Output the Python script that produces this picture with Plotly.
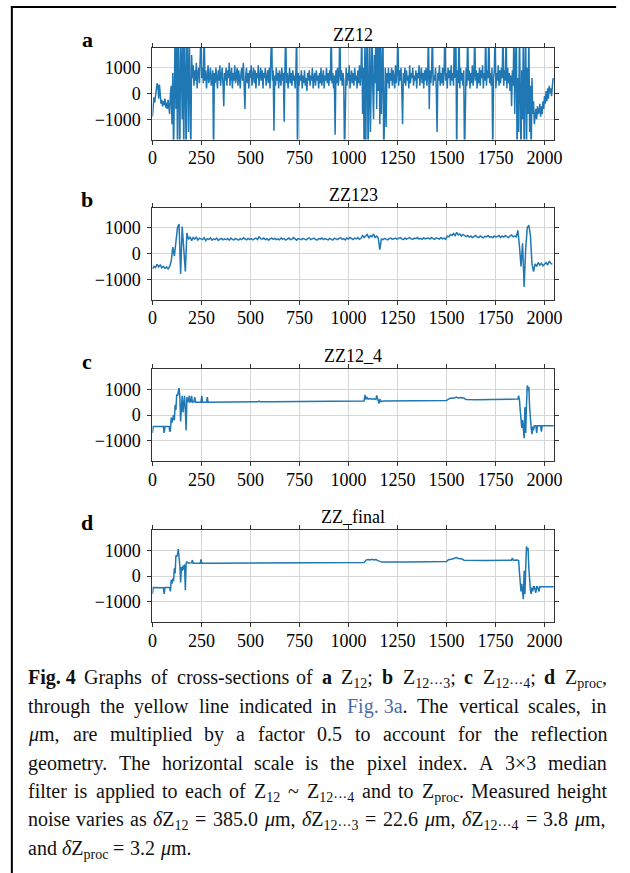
import re
import plotly.graph_objects as go

# ---------------------------------------------------------------------------
# Cross-section profiles (heights in micrometres, pixel index on x)
# ---------------------------------------------------------------------------
STEP4_X = list(range(0, 2048, 4))
STEP8_X = list(range(0, 2048, 8))

# a: raw Z12 profile (every 4th pixel)
zz12 = [
    -900, -300, -150, -350, -100, 200, 400, 300, -200, 350, -100, -400, -250, -500, -300, -450,
    -200, -550, -350, -600, -250, -500, -800, 0, 300, -1200, 800, -2500, 1500, 2500, -600, 2500,
    -2500, 2500, 400, -2500, 2500, 1200, -1000, 2500, -2500, 2500, 600, -2500, 2500, 1000, -1500, 2500,
    200, -2500, 1500, 600, 1100, 300, 900, 500, 1200, 200, 800, 1000, 400, 900, 2500, 600,
    1000, 400, 2500, 500, 900, 200, 800, 1100, 400, 700, 1000, 300, 600, 900, -2500, 800,
    400, 1000, 600, 200, 900, 500, 1100, 300, 700, 1000, 400, -500, 800, 500, 1000, 300,
    900, 600, 1200, 300, 700, 1000, 200, 800, 500, 1100, 400, 700, 1000, 300, 900, 600,
    200, 800, 1000, 500, 1200, 300, -600, 700, 1000, 400, 800, 200, 900, 600, 1100, 300,
    700, 1000, 400, 900, 200, 800, 600, 1100, 300, 700, 1000, 500, 900, 200, 800, 600,
    1000, 300, 700, 900, 400, 1000, 200, 800, 2500, 500, 900, -1450, 700, 300, 1000, 500,
    800, 200, 900, 600, 300, 1000, 500, 800, -1100, 900, 2500, 400, 800, 200, 700, 1000,
    400, 800, 300, 900, 500, 700, 200, 900, 2500, -2500, 800, 300, 700, 500, 900, 200,
    700, 400, 900, 300, 600, 100, 800, 500, 900, 300, 700, 500, 1000, 200, 600, 800,
    300, 900, 500, 700, 200, 800, 400, 1000, 300, 600, 900, 200, 700, 500, 1000, 400,
    800, 300, 900, 500, 2500, 400, 800, 200, 700, -1600, 900, 400, 1000, 300, 700, 2500,
    500, 900, 300, 800, 500, -2500, 700, 1000, 300, 800, 500, 1100, 200, 700, 900, 400,
    800, 300, 1000, 500, 700, 200, 900, 400, 1100, 300, 800, 2500, -800, 1000, -2500, 2500,
    -2500, 1200, 2500, -2500, 600, 2500, -1500, 1000, 2500, 200, -1000, 1500, 400, 2500, -600, 2500,
    100, 2500, -1200, 2500, -800, 1200, 2500, -2500, 300, 1000, -1300, 800, 400, 1000, 200, 800,
    500, 1000, 300, 900, 600, 200, 1100, 400, 800, 2500, 300, 900, 500, 1000, 200, -1200,
    800, 400, 1000, 300, 900, 500, 700, 200, 1100, 400, 800, 600, 1000, 300, 700, 500,
    900, 200, 800, 600, 1100, 300, 700, 1000, 400, 800, 200, 900, 500, 1000, 300, 700,
    2500, -600, 900, 400, 800, 2500, 300, 700, 500, 1000, 200, -1500, 800, 500, 1100, 300,
    800, 400, 1000, 300, 900, 2500, 500, 800, 200, 1000, 600, 900, 300, 1100, 500, 800,
    300, 2500, 600, 2500, -2500, 900, 400, 2500, 200, 1000, 500, 800, 300, 900, -2500, 700,
    1000, 300, 2500, 500, 900, 200, 800, 400, 1100, 300, 700, 2500, 500, 900, 200, 800,
    400, 1000, 300, 900, 600, 1100, 200, 800, 500, 2500, 300, 900, 600, 2500, 400, 800,
    300, 1000, -2500, 600, 900, 2500, 200, 800, 500, 1100, 300, 900, 400, 1000, 600, 2500,
    300, 900, 500, 2500, 200, 1000, 400, 800, 100, 700, -500, 900, 300, 2500, -800, 1000,
    2500, -2500, 600, -1500, 2500, 200, -2500, 900, -1000, 2500, -2500, 400, 2500, -2500, 1000, -800,
    2500, -1500, 300, -2500, 600, -800, -300, -1200, -900, -600, -1000, -500, -800, -700, -400, -900,
    -500, -800, -300, -600, -100, -400, 100, -300, 200, -200, 300, 0, 200, -100, 300, 600,
]

# b: Z12...3 profile (every 8th pixel)
zz123 = [
    -600, -500, -550, -420, -520, -450, -560, -500, -580, -520, -600, -500, -300, 250, -100, 600,
    1000, 1150, -800, 1050, 300, -700, 800, 550, 650, 500, 620, 560, 640, 520, 600, 580,
    540, 620, 500, 580, 550, 610, 520, 570, 540, 600, 510, 560, 590, 530, 570, 540,
    580, 520, 600, 550, 530, 590, 560, 520, 580, 540, 610, 560, 530, 590, 550, 580,
    530, 570, 600, 540, 650, 580, 560, 600, 540, 580, 520, 570, 600, 550, 590, 540,
    570, 530, 600, 560, 580, 520, 570, 600, 540, 560, 620, 550, 520, 580, 560, 540,
    590, 550, 530, 580, 610, 540, 570, 600, 550, 520, 580, 560, 600, 540, 580, 560,
    530, 590, 560, 520, 600, 570, 540, 590, 620, 550, 580, 530, 600, 560, 620, 580,
    540, 600, 570, 620, 550, 590, 700, 620, 680, 740, 600, 700, 650, 760, 620, 680,
    600, 150, 560, 540, 590, 560, 530, 580, 600, 550, 570, 600, 560, 580, 620, 570,
    540, 600, 560, 590, 620, 570, 550, 600, 580, 620, 560, 590, 550, 610, 570, 590,
    600, 560, 620, 580, 550, 610, 590, 560, 620, 570, 600, 550, 680, 650, 740, 700,
    780, 700, 820, 720, 760, 680, 740, 690, 660, 700, 640, 680, 620, 660, 700, 650,
    620, 680, 640, 610, 670, 650, 700, 630, 660, 610, 680, 640, 660, 700, 620, 680,
    640, 700, 660, 620, 690, 720, 650, 680, 650, 900, 300, -500, 400, -1300, 200, 1000,
    1100, 700, -400, -700, -400, -500, -350, -450, -380, -480, -420, -350, -450, -300, -380, -420,
]

# c: Z12...4 profile (breakpoints)
zz12_4_x = [
    0, 4, 20, 40, 56, 60, 64, 86, 88, 92,
    96, 100, 104, 108, 112, 116, 120, 124, 128, 132,
    136, 140, 144, 148, 152, 156, 160, 164, 168, 172,
    176, 180, 184, 188, 192, 196, 200, 204, 212, 216,
    220, 248, 252, 256, 276, 280, 284,
    300, 400, 500, 540, 545, 550, 600, 700, 800, 900,
    1000, 1080, 1084, 1088, 1092, 1100, 1110, 1120, 1130, 1140,
    1144, 1150, 1156, 1160, 1166, 1180, 1250, 1350, 1450, 1500,
    1510, 1520, 1540, 1550, 1560, 1575, 1590, 1600, 1650, 1750,
    1850, 1864, 1868, 1872, 1876, 1880, 1884, 1888, 1892, 1896,
    1900, 1904, 1908, 1912, 1916, 1920, 1924, 1928, 1932, 1936,
    1940, 1944, 1948, 1956, 1960, 1964, 1980, 1984, 1988, 2047,
]
zz12_4_y = [
    -700, -450, -450, -460, -450, -700, -450, -450, -650, -600,
    -100, -300, -200, 0, -200, 400, 200, 800, 750, 850,
    1050, 700, -250, 300, 750, 100, 400, 750, 200, -600,
    700, 500, 550, 750, 500, 520, 750, 500, 520, 700,
    500, 500, 750, 500, 500, 700, 500,
    500, 505, 510, 520, 540, 515, 515, 520, 525, 530,
    540, 545, 780, 600, 700, 620, 640, 610, 630, 600,
    760, 600, 450, 620, 520, 540, 540, 545, 550, 560,
    620, 650, 660, 700, 660, 680, 650, 600, 590, 600,
    610, 620, 750, 600, 200, -100, -500, -200, -850, -900,
    300, -700, 400, 1150, 950, 1100, 300, -300, -500, -750,
    -450, -600, -420, -420, -700, -420, -420, -650, -420, -420,
]

# d: processed profile (breakpoints)
zz_final_x = [
    0, 4, 56, 60, 64, 88, 92, 96, 100, 104,
    108, 112, 116, 120, 124, 128, 132, 136, 140, 144,
    148, 152, 156, 160, 164, 168, 172, 176, 184, 200,
    204, 208, 244, 248, 252,
    300, 500, 700, 900, 1080, 1090, 1100, 1110, 1120, 1130,
    1140, 1150, 1160, 1170, 1300, 1450, 1500, 1510, 1530, 1550,
    1560, 1580, 1590, 1700, 1830, 1836, 1840, 1860, 1864, 1868,
    1872, 1876, 1880, 1884, 1888, 1892, 1896, 1900, 1904, 1908,
    1912, 1916, 1920, 1924, 1928, 1932, 1936, 1940, 1944, 1948,
    1956, 1960, 1964, 1972, 1976, 1980, 2047,
]
zz_final_y = [
    -700, -450, -460, -700, -450, -450, -600, -150, -300, -100,
    -200, 300, 100, 800, 750, 850, 1050, 800, 400, -250,
    350, 200, 400, 250, 450, -550, 500, 550, 500, 520,
    620, 500, 500, 650, 500,
    500, 505, 510, 520, 530, 620, 640, 620, 650, 620,
    640, 600, 560, 540, 540, 545, 560, 630, 660, 720,
    680, 660, 610, 600, 610, 700, 610, 620, 620, 600,
    150, -200, -600, -300, -850, -900, 200, -700, 300, 1150,
    1000, 1100, 300, -300, -550, -700, -450, -600, -420, -420,
    -650, -420, -420, -600, -420, -420, -420,
]

panel_titles = ["ZZ12", "ZZ123", "ZZ12_4", "ZZ_final"]
panel_letters = ["a", "b", "c", "d"]
x_tick_vals = [0, 250, 500, 750, 1000, 1250, 1500, 1750, 2000]
y_tick_vals = [-1000, 0, 1000]
y_tick_text = ["\u22121000", "0", "1000"]

series = [
    (STEP4_X, zz12),
    (STEP8_X, zz123),
    (zz12_4_x, zz12_4_y),
    (zz_final_x, zz_final_y),
]

# ---------------------------------------------------------------------------
# Page geometry (pixels)
# ---------------------------------------------------------------------------
W, H = 630, 873
PLOT_L, PLOT_R = 150.5, 560.5
PLOT_H = 92.0
PANEL_TOPS = [47.5, 207.5, 369.0, 530.0]

SERIF = "Liberation Serif, Times New Roman, serif"
LINE_BLUE = "#1f77b4"
TICK_FS = 18
TITLE_FS = 18
LETTER_FS = 22


def px_x(p):
    return p / W


def px_y(p):
    return 1.0 - p / H


fig = go.Figure()
layout = dict(
    width=W, height=H, autosize=False,
    margin=dict(l=0, r=0, t=0, b=0, pad=0),
    paper_bgcolor="white", plot_bgcolor="white",
    showlegend=False,
    font=dict(family=SERIF, size=TICK_FS, color="black"),
)

axis_common = dict(
    showline=True, linecolor="#333333", linewidth=1, mirror="allticks",
    ticks="outside", ticklen=4, tickwidth=1, tickcolor="#333333",
    showgrid=True, gridcolor="#d6d6d6", gridwidth=1, zeroline=False,
    tickfont=dict(family=SERIF, size=TICK_FS, color="black"),
    fixedrange=True,
)

annotations = []


def add_text(html, x, baseline, fs, xanchor="left", color="black"):
    # place text by its baseline, using the serif font's ascent
    annotations.append(dict(
        text=html, xref="paper", yref="paper",
        x=px_x(x), y=px_y(baseline - 0.891 * fs - 1),
        xanchor=xanchor, yanchor="top", showarrow=False,
        font=dict(family=SERIF, size=fs, color=color),
    ))


for i, ((xs, ys), title, letter, top) in enumerate(
        zip(series, panel_titles, panel_letters, PANEL_TOPS)):
    suffix = "" if i == 0 else str(i + 1)
    fig.add_trace(go.Scatter(
        x=xs, y=ys, mode="lines",
        line=dict(color=LINE_BLUE, width=1.5),
        xaxis="x" + suffix, yaxis="y" + suffix, hoverinfo="skip",
    ))
    layout["xaxis" + suffix] = dict(
        axis_common, domain=[px_x(PLOT_L), px_x(PLOT_R)], anchor="y" + suffix,
        range=[0, 2048], tickvals=x_tick_vals,
        ticktext=[str(v) for v in x_tick_vals], ticklabelstandoff=-2,
    )
    layout["yaxis" + suffix] = dict(
        axis_common, domain=[px_y(top + PLOT_H), px_y(top)], anchor="x" + suffix,
        range=[-1790, 1790], tickvals=y_tick_vals, ticktext=y_tick_text,
        ticklabelstandoff=3,
    )
    add_text(title, (PLOT_L + PLOT_R) / 2, top - 7.5, TITLE_FS, xanchor="center")
    add_text("<b>%s</b>" % letter, 84, top - 1.5, LETTER_FS, xanchor="center")

# ---------------------------------------------------------------------------
# Caption, justified word by word with Times-compatible advance widths
# ---------------------------------------------------------------------------
REG = {" ": 250, "\u00a0": 250, ",": 250, ".": 250, ";": 278, "-": 333,
       "\u00d7": 564, "~": 541, "=": 564, "\u00b7": 340, "\u03b4": 520, "\u03bc": 576}
REG.update({c: 500 for c in "0123456789"})
REG.update(dict(zip("abcdefghijklmnopqrstuvwxyz",
                    [444, 500, 444, 500, 444, 333, 500, 500, 278, 278, 500, 278, 778,
                     500, 500, 500, 500, 333, 389, 278, 500, 500, 722, 500, 500, 444])))
REG.update({"A": 722, "F": 556, "G": 722, "M": 889, "T": 611, "Z": 611})
BOLD = {"F": 611, "i": 278, "g": 500, ".": 250, " ": 250, "4": 500,
        "a": 500, "b": 556, "c": 444, "d": 556}


def token_width(html, fs):
    bold = sub = False
    w = 0.0
    for part in re.split(r"(<[^>]+>)", html):
        if part.startswith("<"):
            name = re.match(r"</?\s*(\w+)", part).group(1).lower()
            closing = part.startswith("</")
            if name == "b":
                bold = not closing
            elif name == "sub":
                sub = not closing
            continue
        for ch in part:
            base = BOLD.get(ch, REG.get(ch, 500)) if bold else REG.get(ch, 500)
            w += base * (0.7 if sub else 1.0)
    return w * fs / 1000.0


LINK = "<span style='color:#4a6ea8'>Fig. 3a</span>"
MU = "<i>\u03bc</i>m"
DZ = "<i>\u03b4</i>Z"
DOTS = "\u00b7\u00b7\u00b7"
caption_lines = [
    ["<b>Fig. 4</b>", "Graphs", "of", "cross-sections", "of", "<b>a</b>",
     "Z<sub>12</sub>;", "<b>b</b>", "Z<sub>12" + DOTS + "3</sub>;", "<b>c</b>",
     "Z<sub>12" + DOTS + "4</sub>;", "<b>d</b>", "Z<sub>proc</sub>,"],
    ["through", "the", "yellow", "line", "indicated", "in", LINK + ".", "The",
     "vertical", "scales,", "in"],
    [MU + ",", "are", "multiplied", "by", "a", "factor", "0.5", "to", "account",
     "for", "the", "reflection"],
    ["geometry.", "The", "horizontal", "scale", "is", "the", "pixel", "index.", "A",
     "3\u00d73", "median"],
    ["filter", "is", "applied", "to", "each", "of", "Z<sub>12</sub>", "~",
     "Z<sub>12" + DOTS + "4</sub>", "and", "to", "Z<sub>proc</sub>.", "Measured", "height"],
    ["noise", "varies", "as", DZ + "<sub>12</sub>", "=", "385.0", MU + ",",
     DZ + "<sub>12" + DOTS + "3</sub>", "=", "22.6", MU + ",",
     DZ + "<sub>12" + DOTS + "4</sub>", "=", "3.8", MU + ","],
    ["and", DZ + "<sub>proc</sub>", "=", "3.2", MU + "."],
]

CAP_FS = 20
CAP_L, CAP_R = 22.5, 612.5
CAP_BASE0, CAP_LEAD = 683.3, 28.35

for li, words in enumerate(caption_lines):
    widths = [token_width(w, CAP_FS) for w in words]
    last = li == len(caption_lines) - 1
    if last or len(words) < 2:
        gap = 0.27 * CAP_FS
    else:
        gap = (CAP_R - CAP_L - sum(widths)) / (len(words) - 1)
    x = CAP_L
    for w, wd in zip(words, widths):
        add_text(w, x - 1, CAP_BASE0 + li * CAP_LEAD, CAP_FS, xanchor="left", color="#111111")
        x += wd + gap

layout["annotations"] = annotations
layout["shapes"] = [
    dict(type="line", xref="paper", yref="paper", x0=px_x(7), x1=px_x(7),
         y0=px_y(6), y1=px_y(H), line=dict(color="black", width=2)),
    dict(type="line", xref="paper", yref="paper", x0=px_x(6), x1=px_x(624),
         y0=px_y(7), y1=px_y(7), line=dict(color="black", width=2)),
]

fig.update_layout(**layout)
fig.write_html("out.html")
